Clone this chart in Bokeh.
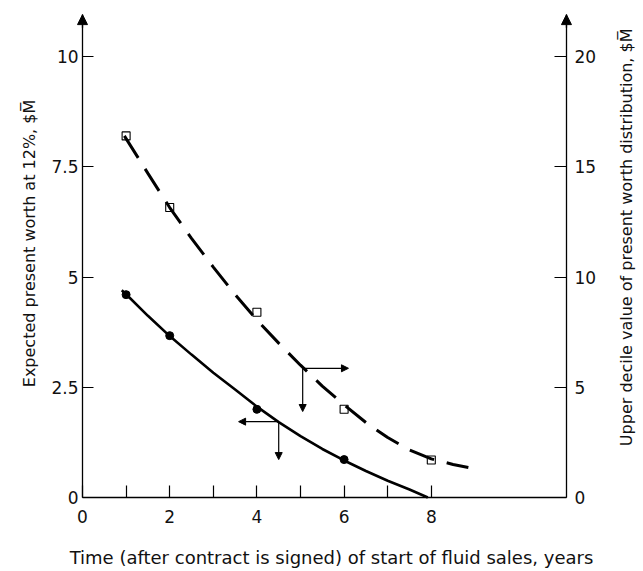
import math
from bokeh.plotting import figure
from bokeh.models import (Range1d, LinearAxis, FixedTicker, Arrow, NormalHead, Label)
from bokeh.embed import file_html
from bokeh.resources import INLINE

# ---------------- data ----------------
# expected present worth at 12% ($M), left axis
circ_x = [1, 2, 4, 6]
circ_y = [4.6, 3.67, 2.0, 0.86]
solid_x = [0.9, 1.0, 1.5, 2.0, 2.5, 3.0, 3.5, 4.0, 4.5, 5.0, 5.5, 6.0, 6.5, 7.0, 7.5, 7.92]
solid_y = [4.70, 4.61, 4.12, 3.66, 3.24, 2.83, 2.45, 2.06, 1.71, 1.39, 1.10, 0.84, 0.60, 0.38, 0.18, 0.0]

# upper decile value of present worth distribution ($M), right axis
sq_x = [1, 2, 4, 6, 8]
sq_y = [16.4, 13.15, 8.4, 4.0, 1.7]
dash_x = [0.96, 1.5, 2.0, 2.5, 3.0, 3.5, 4.0, 4.5, 5.0, 5.5, 6.0, 6.5, 7.0, 7.5, 8.0, 8.5, 8.85]
dash_y = [16.4, 14.7, 13.15, 11.75, 10.45, 9.2, 8.05, 7.0, 6.0, 5.05, 4.2, 3.4, 2.72, 2.15, 1.75, 1.5, 1.36]

# pointer arrows (corner x, corner y in left units, horizontal end x, vertical end y)
ptr_dash = (5.05, 2.93, 6.1, 1.95)    # points to right axis
ptr_solid = (4.5, 1.72, 3.58, 0.86)   # points to left axis

x_ticks = [0, 2, 4, 6, 8]
x_labels = ["0", "2", "4", "6", "8"]
x_minor = [1, 3, 5, 7]
yl_ticks = [0, 2.5, 5, 7.5, 10]
yl_labels = ["0", "2.5", "5", "7.5", "10"]
yr_ticks = [0, 5, 10, 15, 20]
yr_labels = ["0", "5", "10", "15", "20"]

x_title = "Time (after contract is signed) of start of fluid sales, years"
yl_title = "Expected present worth at 12%, $M\u0305"
yr_title = "Upper decile value of present worth distribution, $M\u0305"

# ---------------- figure ----------------
W, H = 643, 571
X_AX_END = 11.1          # right axis position
Y_TIP = 10.95            # top of the arrowed y axes
X_RANGE = (-1.881, 12.867)
Y_RANGE = (-1.678, 11.27)
FONT = "DejaVu Sans"

p = figure(frame_width=W, frame_height=H,
           x_range=Range1d(*X_RANGE), y_range=Range1d(*Y_RANGE),
           output_backend="svg", toolbar_location=None,
           min_border=0, x_axis_type=None, y_axis_type=None)
p.extra_y_ranges = {"right": Range1d(2 * Y_RANGE[0], 2 * Y_RANGE[1])}
p.outline_line_color = None
p.background_fill_color = "white"
p.border_fill_color = "white"

def style(ax, ticks, labels, minor=None):
    ax.ticker = FixedTicker(ticks=ticks, minor_ticks=minor or [])
    ax.major_label_overrides = dict(zip(ticks, labels))
    ax.axis_line_color = "black"
    ax.axis_line_width = 1.3
    ax.major_tick_line_color = "black"
    ax.major_tick_line_width = 1.2
    ax.minor_tick_line_color = "black"
    ax.minor_tick_line_width = 1.2
    ax.major_tick_out = 0
    ax.minor_tick_out = 0
    ax.minor_tick_in = 0
    ax.major_label_text_font = FONT
    ax.major_label_text_font_size = "17px"
    ax.major_label_text_color = "#111111"

xa = LinearAxis(fixed_location=0)
style(xa, x_ticks, x_labels, x_minor)
xa.major_tick_in = 12
xa.minor_tick_in = 12
xa.major_label_standoff = 12
xa.bounds = (0, X_AX_END)
p.add_layout(xa, "below")

ya = LinearAxis(fixed_location=0)
style(ya, yl_ticks, yl_labels)
ya.major_tick_in = 11
ya.major_label_standoff = 4
ya.bounds = (0, Y_TIP)
p.add_layout(ya, "left")

ra = LinearAxis(fixed_location=X_AX_END, y_range_name="right")
style(ra, yr_ticks, yr_labels)
ra.major_tick_in = 12
ra.major_label_standoff = 8
ra.bounds = (0, 2 * Y_TIP)
p.add_layout(ra, "right")

# axis titles
def title(txt, x, y, angle, size):
    p.add_layout(Label(x=x, y=y, text=txt, angle=angle,
                       text_align="center", text_baseline="middle",
                       text_font=FONT, text_font_size=size, text_color="#111111"))

title(x_title, 5.71, -1.36, 0, "18px")
title(yl_title, -1.216, 5.76, math.pi / 2, "16px")
title(yr_title, 12.48, 5.9, math.pi / 2, "16px")

# axis arrow tips
for xx in (0, X_AX_END):
    p.add_layout(Arrow(end=NormalHead(size=10, fill_color="black", line_color="black"),
                       x_start=xx, y_start=Y_TIP - 0.3, x_end=xx, y_end=Y_TIP,
                       line_color="black", line_width=1.3))

# curves
p.line(solid_x, solid_y, line_color="black", line_width=2.6)
p.scatter(circ_x, circ_y, marker="circle", size=8, fill_color="black", line_color="black")

p.line(dash_x, dash_y, y_range_name="right", line_color="black", line_width=3,
       line_dash="26 13")
p.scatter(sq_x, sq_y, y_range_name="right", marker="square", size=8,
          fill_alpha=0, line_color="black", line_width=1.1)

# pointer arrows
def pointer(spec):
    cx, cy, hx, vy = spec
    for (xs, ys, xe, ye) in ((cx, cy, hx, cy), (cx, cy, cx, vy)):
        p.add_layout(Arrow(end=NormalHead(size=7, fill_color="black", line_color="black"),
                           x_start=xs, y_start=ys, x_end=xe, y_end=ye,
                           line_color="black", line_width=1.2))

pointer(ptr_dash)
pointer(ptr_solid)

open("out.html", "w").write(file_html(p, INLINE))
